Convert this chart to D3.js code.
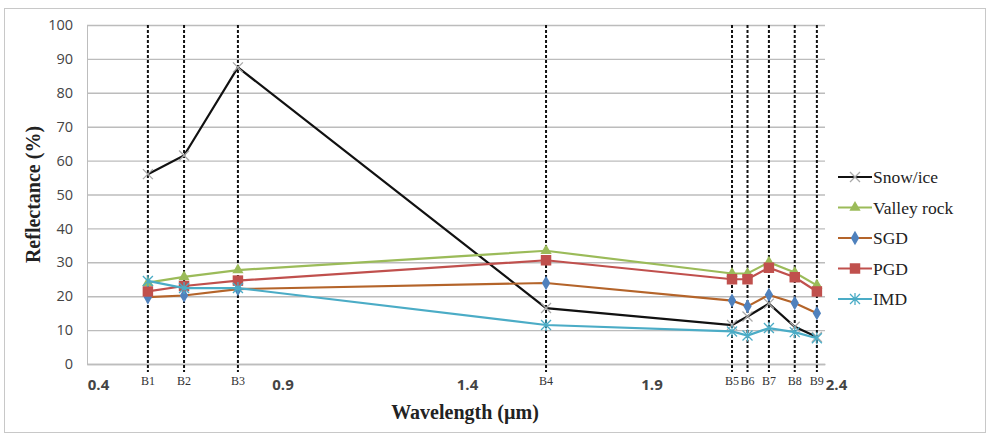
<!DOCTYPE html>
<html>
<head>
<meta charset="utf-8">
<script src="https://cdnjs.cloudflare.com/ajax/libs/d3/7.8.5/d3.min.js"></script>
<style>
body { margin: 0; background: #fff; }
</style>
</head>
<body>
<div id="chart"></div>
<script>
// band names and their centre wavelengths (um)
var bands = ["B1", "B2", "B3", "B4", "B5", "B6", "B7", "B8", "B9"];
var wavelengths = [0.565, 0.663, 0.809, 1.644, 2.148, 2.19, 2.248, 2.318, 2.378];

var seriesNames = ["Snow/ice", "Valley rock", "SGD", "PGD", "IMD"];
var snowIce = [56, 61.5, 87.5, 16.5, 11.5, 14, 17.8, 11, 8];
var valleyRock = [24, 25.7, 27.7, 33.4, 26.7, 26.7, 30, 27, 23.2];
var sgd = [19.7, 20.2, 22.1, 23.9, 18.7, 17, 20.4, 18, 15];
var pgd = [21.4, 23, 24.6, 30.6, 25, 25, 28.4, 25.6, 21.4];
var imd = [24.5, 22.4, 22.4, 11.5, 9.6, 8.4, 10.6, 9.4, 7.6];

var yTicks = [0, 10, 20, 30, 40, 50, 60, 70, 80, 90, 100];
var xTicks = [0.4, 0.9, 1.4, 1.9, 2.4];

function init(){
	var w = 988;
	var h = 434;
	var margin = {left: 87, right: 163, top: 25, bottom: 70};

	var svg = d3.select("#chart")
				.append("svg")
				.attr("width", w)
				.attr("height", h);

	// outer frame
	svg.append("rect")
		.attr("x", 4.5).attr("y", 8.5)
		.attr("width", 981).attr("height", 424)
		.attr("fill", "#fff")
		.attr("stroke", "#c8c8c8");

	var xScale = d3.scaleLinear()
					.domain([0.4, 2.4])
					.range([margin.left, w - margin.right]);
	var yScale = d3.scaleLinear()
					.domain([0, 100])
					.range([h - margin.bottom, margin.top]);

	//gridlines
	svg.append("g")
		.attr("transform", "translate(" + margin.left + ",0)")
		.call(d3.axisLeft(yScale).tickValues(yTicks)
				.tickSize(-(w - margin.left - margin.right)).tickFormat(""))
		.call(function(g){
			g.select(".domain").attr("stroke", "#bdbdbd");
			g.selectAll(".tick line").attr("stroke", "#bcbcbc").attr("stroke-width", 1.4);
		});

	// y tick labels
	svg.append("g")
		.attr("transform", "translate(" + margin.left + ",0)")
		.call(d3.axisLeft(yScale).tickValues(yTicks).tickSize(0).tickPadding(14))
		.call(function(g){
			g.select(".domain").remove();
			g.selectAll("text")
				.attr("font-family", "Open Sans, sans-serif")
				.attr("font-size", 14.5)
				.attr("fill", "#444");
		});

	// x axis
	svg.append("g")
		.attr("transform", "translate(0," + yScale(0) + ")")
		.call(d3.axisBottom(xScale).tickValues(xTicks).tickSize(0).tickPadding(15))
		.call(function(g){
			g.select(".domain").attr("stroke", "#bdbdbd").attr("stroke-width", 1.4);
			g.selectAll("text")
				.attr("dx", 11)
				.attr("font-family", "Open Sans, sans-serif")
				.attr("font-weight", "bold")
				.attr("font-size", 15)
				.attr("fill", "#444");
		});

	// band lines
	var bandG = svg.append("g");
	bandG.selectAll("line")
		.data(wavelengths)
		.enter()
		.append("line")
		.attr("x1", function(d){ return xScale(d); })
		.attr("x2", function(d){ return xScale(d); })
		.attr("y1", yScale(100))
		.attr("y2", yScale(0) + 8)
		.attr("stroke", "#111")
		.attr("stroke-width", 2)
		.attr("stroke-dasharray", "3,2");
	bandG.selectAll("text")
		.data(bands)
		.enter()
		.append("text")
		.attr("x", function(d, i){ return xScale(wavelengths[i]); })
		.attr("y", yScale(0) + 21)
		.attr("text-anchor", "middle")
		.attr("font-family", "Liberation Serif, serif")
		.attr("font-size", 12)
		.attr("fill", "#333")
		.text(function(d){ return d; });

	var dataSets = [snowIce, valleyRock, sgd, pgd, imd];
	var lineColors = ["#111111", "#9bbb59", "#b4642a", "#c0504d", "#4bacc6"];
	var markerColors = ["#aaaaaa", "#9bbb59", "#4f81bd", "#c0504d", "#4bacc6"];
	var markerTypes = ["x", "triangle", "diamond", "square", "star"];

	var line = d3.line()
				.x(function(d, i){ return xScale(wavelengths[i]); })
				.y(function(d){ return yScale(d); });

	function drawMarker(g, type, color, x, y){
		if (type === "x") {
			g.append("path")
				.attr("d", "M" + (x-5) + "," + (y-5) + "L" + (x+5) + "," + (y+5) +
						"M" + (x-5) + "," + (y+5) + "L" + (x+5) + "," + (y-5))
				.attr("stroke", color).attr("stroke-width", 1.3).attr("fill", "none");
		} else if (type === "star") {
			g.append("path")
				.attr("d", "M" + (x-5) + "," + (y-5) + "L" + (x+5) + "," + (y+5) +
						"M" + (x-5) + "," + (y+5) + "L" + (x+5) + "," + (y-5) +
						"M" + x + "," + (y-6) + "L" + x + "," + (y+6))
				.attr("stroke", color).attr("stroke-width", 1.3).attr("fill", "none");
		} else {
			var sym = type === "triangle" ? d3.symbolTriangle :
					  type === "diamond" ? d3.symbolDiamond : d3.symbolSquare;
			var size = type === "square" ? 110 : type === "diamond" ? 60 : 55;
			g.append("path")
				.attr("d", d3.symbol().type(sym).size(size)())
				.attr("transform", "translate(" + x + "," + y + ")")
				.attr("fill", color);
		}
	}

	var seriesG = svg.selectAll(".series")
					.data(dataSets)
					.enter()
					.append("g")
					.attr("class", "series");

	seriesG.append("path")
		.attr("d", function(d){ return line(d); })
		.attr("fill", "none")
		.attr("stroke", function(d, i){ return lineColors[i]; })
		.attr("stroke-width", 2.2);

	seriesG.each(function(d, i){
		var g = d3.select(this);
		d.forEach(function(v, j){
			drawMarker(g, markerTypes[i], markerColors[i], xScale(wavelengths[j]), yScale(v));
		});
	});

	// legend
	var legend = svg.append("g").attr("transform", "translate(838,177)");
	seriesNames.forEach(function(name, i){
		var y = i * 30.5;
		legend.append("line")
			.attr("x1", 0).attr("x2", 34)
			.attr("y1", y).attr("y2", y)
			.attr("stroke", lineColors[i]).attr("stroke-width", 2.2);
		drawMarker(legend, markerTypes[i], markerColors[i], 17, y);
		legend.append("text")
			.attr("x", 35).attr("y", y)
			.attr("dy", "0.35em")
			.attr("font-family", "Liberation Serif, serif")
			.attr("font-size", 17.5)
			.attr("fill", "#222")
			.text(name);
	});

	// axis titles
	svg.append("text")
		.attr("transform", "translate(40," + yScale(50) + ") rotate(-90)")
		.attr("text-anchor", "middle")
		.attr("font-family", "Liberation Serif, serif")
		.attr("font-weight", "bold")
		.attr("font-size", 20)
		.attr("fill", "#222")
		.text("Reflectance (%)");

	svg.append("text")
		.attr("x", 465)
		.attr("y", 419)
		.attr("text-anchor", "middle")
		.attr("font-family", "Liberation Serif, serif")
		.attr("font-weight", "bold")
		.attr("font-size", 20)
		.attr("fill", "#222")
		.text("Wavelength (µm)");
}

window.onload = init;
</script>
</body>
</html>
